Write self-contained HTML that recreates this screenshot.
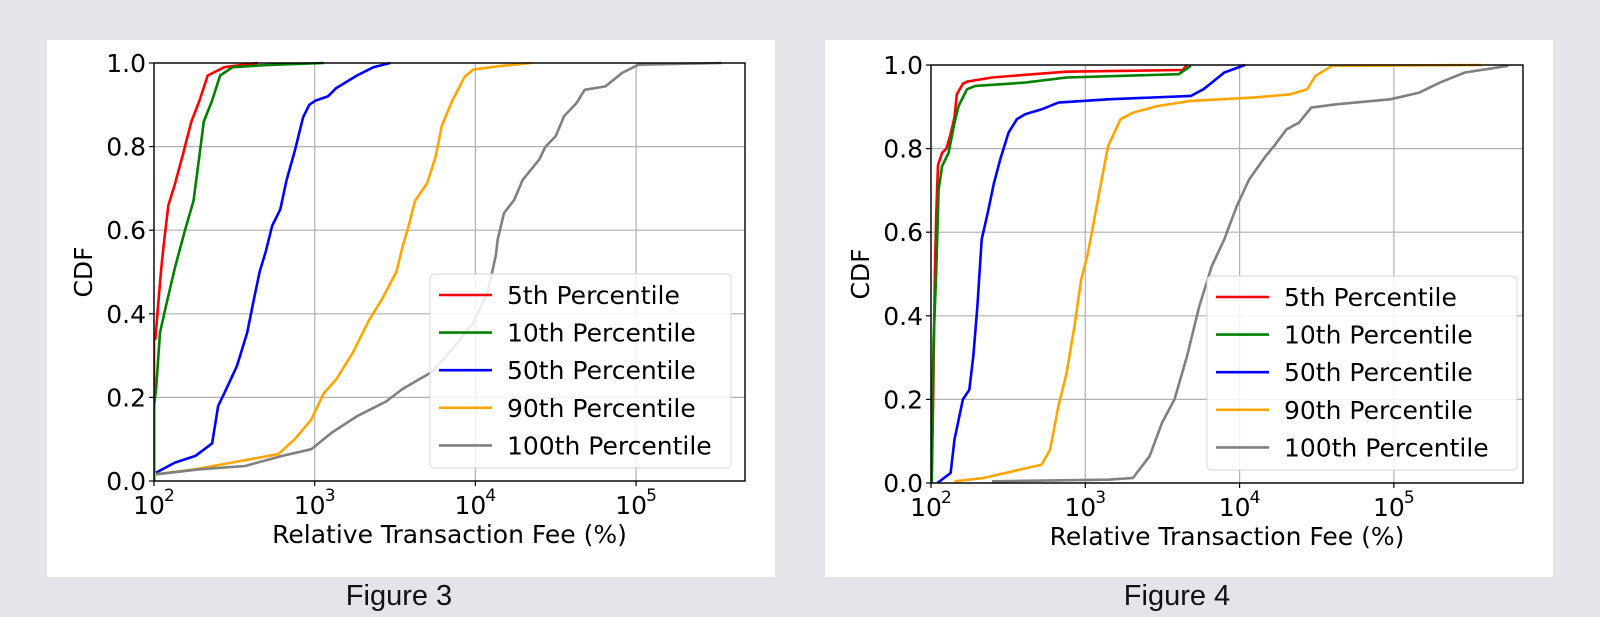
<!DOCTYPE html>
<html><head><meta charset="utf-8"><style>
body{margin:0;width:1600px;height:617px;background:#e5e4ea;overflow:hidden;font-family:"DejaVu Sans","Liberation Sans",sans-serif;}
svg{position:absolute;left:0;top:0}
</style></head><body>
<svg id="s" width="1600" height="617" xmlns="http://www.w3.org/2000/svg">
<rect x="47" y="40" width="728" height="537" fill="#fff"/>
<rect x="825" y="40" width="728" height="537" fill="#fff"/>
<text x="399" y="605" font-family="Liberation Sans, sans-serif" font-size="29" text-anchor="middle" fill="#111">Figure 3</text>
<text x="1177" y="605" font-family="Liberation Sans, sans-serif" font-size="29" text-anchor="middle" fill="#111">Figure 4</text>
</svg>
<script>
// Figure 3 data (x = relative fee %, y = CDF)
const f3_red_x=[100,100,102,106,111,116,123,135,151,171,192,216,274,441];
const f3_red_y=[0.0,0.34,0.34,0.42,0.51,0.58,0.66,0.71,0.78,0.86,0.91,0.97,0.99,1.0];
const f3_green_x=[100,100,103,109,119,135,156,176,192,204,230,258,309,497,1140];
const f3_green_y=[0.0,0.18,0.22,0.355,0.42,0.51,0.60,0.67,0.78,0.86,0.91,0.97,0.99,0.995,1.0];
const f3_blue_x=[103,135,181,230,251,274,328,380,416,454,497,543,611,669,752,847,925,1012,1208,1361,1832,2323,2944];
const f3_blue_y=[0.02,0.044,0.06,0.09,0.18,0.21,0.275,0.355,0.43,0.50,0.55,0.61,0.65,0.72,0.79,0.87,0.90,0.91,0.92,0.94,0.97,0.99,1.0];
const f3_orange_x=[103,181,348,593,752,953,1140,1361,1726,2188,2617,3221,3520,3846,4207,5023,5662,6180,7178,8577,9660,13770,22130];
const f3_orange_y=[0.016,0.028,0.048,0.064,0.10,0.147,0.21,0.243,0.307,0.386,0.434,0.50,0.56,0.61,0.67,0.713,0.777,0.85,0.91,0.967,0.984,0.992,1.0];
const f3_gray_x=[103,192,369,629,953,1282,1832,2773,3520,4460,5330,7178,9660,11900,13370,13770,15060,17470,19680,24950,27290,31620,35620,42560,47860,64420,81660,103500,339600];
const f3_gray_y=[0.016,0.028,0.036,0.06,0.076,0.116,0.155,0.19,0.22,0.243,0.26,0.315,0.378,0.45,0.538,0.578,0.641,0.673,0.72,0.769,0.80,0.825,0.873,0.904,0.936,0.944,0.976,0.996,1.0];
// Figure 4 data
const f4_red_x=[101,103,106,108,111,118,126,134,142,147,161,171,248,461,757,4285,4560];
const f4_red_y=[0.0,0.18,0.50,0.64,0.76,0.79,0.80,0.835,0.875,0.93,0.955,0.96,0.97,0.978,0.984,0.988,1.0];
const f4_green_x=[101,103,104,108,112,118,130,142,151,171,194,407,757,4028,4842];
const f4_green_y=[0.0,0.263,0.343,0.503,0.702,0.758,0.79,0.862,0.902,0.942,0.95,0.958,0.97,0.978,0.998];
const f4_blue_x=[110,134,142,161,177,188,200,213,233,256,281,318,360,407,522,669,1406,4842,5834,6607,7962,10840];
const f4_blue_y=[0.0,0.024,0.104,0.2,0.223,0.303,0.423,0.583,0.646,0.718,0.774,0.838,0.87,0.882,0.894,0.91,0.918,0.926,0.942,0.958,0.982,1.0];
const f4_orange_x=[142,219,339,522,591,669,757,857,940,1031,1132,1242,1406,1692,2036,2951,4842,12270,21430,27420,31050,39740,368900];
const f4_orange_y=[0.004,0.012,0.028,0.044,0.08,0.184,0.263,0.383,0.487,0.543,0.622,0.702,0.806,0.87,0.886,0.902,0.914,0.922,0.93,0.942,0.974,0.998,1.0];
const f4_gray_x=[248,1406,2036,2612,3141,3784,4560,5483,6607,7962,9572,11530,14760,16710,20140,24210,29170,42270,94620,146000,198600,288400,552100];
const f4_gray_y=[0.004,0.008,0.012,0.064,0.144,0.2,0.303,0.423,0.519,0.583,0.662,0.726,0.782,0.806,0.846,0.862,0.898,0.906,0.918,0.934,0.958,0.982,0.998];
const yTicks=[0.0,0.2,0.4,0.6,0.8,1.0];
const xTickExps=[2,3,4,5];
const legendLabels=["5th Percentile","10th Percentile","50th Percentile","90th Percentile","100th Percentile"];
const colors=["#ff0000","#008000","#0000ff","#ffa500","#808080"];

const NS="http://www.w3.org/2000/svg";
const svg=document.getElementById('s');
function mk(tag,attrs,parent){const e=document.createElementNS(NS,tag);for(const k in attrs)e.setAttribute(k,attrs[k]);(parent||svg).appendChild(e);return e;}

function plot(p){
  const g=mk('g',{});
  
  
  const sx=v=>p.x0+(Math.log10(v)-2)*p.dec;
  const sy=v=>p.y1-(v)*(p.y1-p.y0);
  const clip='c'+p.name;
  const cp=mk('clipPath',{id:clip},g);mk('rect',{x:p.x0,y:p.y0-2,width:p.x1-p.x0,height:p.y1-p.y0+4},cp);
  yTicks.forEach(t=>{const l=mk('line',{x1:p.x0,x2:p.x1,y1:sy(t),y2:sy(t),stroke:'#b0b0b0','stroke-width':1.2},g);
    });
  xTickExps.forEach(e=>{const x=sx(Math.pow(10,e));const l=mk('line',{x1:x,x2:x,y1:p.y0,y2:p.y1,stroke:'#b0b0b0','stroke-width':1.2},g);
    });
  p.series.forEach((s,i)=>{
    const pts=s.x.map((v,j)=>sx(v).toFixed(1)+','+sy(s.y[j]).toFixed(1)).join(' ');
    const pl=mk('polyline',{points:pts,fill:'none',stroke:colors[i],'stroke-width':2.6,'stroke-linejoin':'round','clip-path':'url(#'+clip+')'},g);
    
    
  });
  const fr=mk('rect',{x:p.x0,y:p.y0,width:p.x1-p.x0,height:p.y1-p.y0,fill:'none',stroke:'#000','stroke-width':1.4},g);
  
  yTicks.forEach(t=>{mk('line',{x1:p.x0-5,x2:p.x0,y1:sy(t),y2:sy(t),stroke:'#000','stroke-width':1.2},g);
    const tx=mk('text',{x:p.x0-8,y:sy(t)+9,'font-size':25,'text-anchor':'end',fill:'#000'},g);tx.textContent=t.toFixed(1);
    });
  xTickExps.forEach(e=>{const x=sx(Math.pow(10,e));mk('line',{x1:x,x2:x,y1:p.y1,y2:p.y1+5,stroke:'#000','stroke-width':1.2},g);
    const tx=mk('text',{x:x-5,y:p.y1+33,'font-size':25,'text-anchor':'middle',fill:'#000'},g);tx.textContent='10';
    
    const sp=mk('text',{x:x+10,y:p.y1+20,'font-size':17,'text-anchor':'start',fill:'#000'},g);sp.textContent=String(e);
    });
  const xl=mk('text',{x:(p.x0+p.x1)/2,y:p.y1+62,'font-size':25,'text-anchor':'middle',fill:'#000'},g);xl.textContent='Relative Transaction Fee (%)';
  
  const yl=mk('text',{x:0,y:0,'font-size':25,'text-anchor':'middle',fill:'#000',transform:'translate('+(p.x0-62)+','+((p.y0+p.y1)/2)+') rotate(-90)'},g);yl.textContent='CDF';
  
  const lg=mk('g',{},g);
  mk('rect',{x:p.lx,y:p.ly,width:p.lw,height:194,rx:4,fill:'#fff','fill-opacity':0.85,stroke:'#d6d6d6','stroke-width':1},lg);
  legendLabels.forEach((lab,i)=>{const y=p.ly+21+i*37.6;
    const e=mk('g',{},lg);
    mk('line',{x1:p.lx+9,x2:p.lx+62,y1:y,y2:y,stroke:colors[i],'stroke-width':2.6},e);
    const t=mk('text',{x:p.lx+77,y:y+9,'font-size':25,fill:'#000'},e);t.textContent=lab;});
}
plot({name:'figure-3-chart',x0:154,x1:745,y0:63,y1:481,dec:160.7,lx:430,ly:274,lw:301,
  series:[{x:f3_red_x,y:f3_red_y},{x:f3_green_x,y:f3_green_y},{x:f3_blue_x,y:f3_blue_y},{x:f3_orange_x,y:f3_orange_y},{x:f3_gray_x,y:f3_gray_y}]});
plot({name:'figure-4-chart',x0:931,x1:1523,y0:65,y1:483,dec:154.3,lx:1207,ly:276,lw:310,
  series:[{x:f4_red_x,y:f4_red_y},{x:f4_green_x,y:f4_green_y},{x:f4_blue_x,y:f4_blue_y},{x:f4_orange_x,y:f4_orange_y},{x:f4_gray_x,y:f4_gray_y}]});
</script>
</body></html>
